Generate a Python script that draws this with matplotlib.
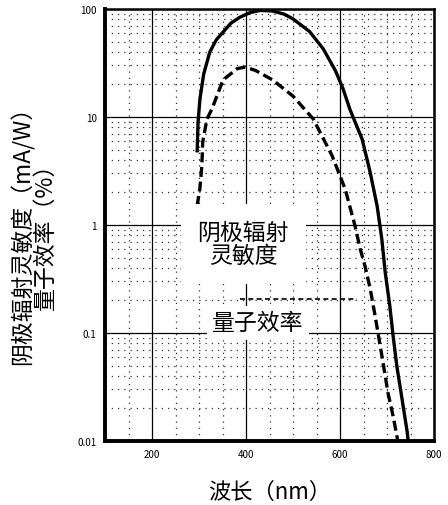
import matplotlib
matplotlib.use("Agg")
import matplotlib.pyplot as plt
from matplotlib.ticker import FixedLocator, LogLocator, NullFormatter
import numpy as np

plt.rcParams['font.family'] = ['Noto Sans CJK SC', 'DejaVu Sans']

# cathode radiant sensitivity (mA/W)
wl_sens = [296, 298, 302, 310, 323, 337, 351, 368, 387, 410, 430, 455, 480,
           500, 535, 564, 590, 606, 621, 647, 664, 679, 689, 696, 706,
           713, 721, 732, 743, 745]
sens = [4.7, 9.0, 14.7, 25, 40, 52, 61, 74, 84, 93, 97, 96, 90,
        81, 62, 43, 27, 18.5, 11.8, 6.25, 3.1, 1.5, 0.74, 0.37, 0.178,
        0.094, 0.049, 0.0245, 0.0121, 0.01]

# quantum efficiency (%)
wl_qe = [296, 302, 306, 308, 317, 328, 351, 381, 398, 420, 457, 500, 543,
         557, 583, 611, 632, 643, 653, 664, 674, 689, 702, 713, 723]
qe = [1.5, 2.2, 3.5, 5.9, 9.6, 12, 22, 28, 29, 27, 22, 15.6, 9.6,
      7.3, 4.4, 2.15, 0.98, 0.6, 0.42, 0.26, 0.15, 0.062, 0.028, 0.017, 0.01]

x_ticks = [200, 400, 600, 800]
x_ticklabels = ['200', '400', '600', '800']
y_ticks = [0.01, 0.1, 1, 10, 100]
y_ticklabels = ['0.01', '0.1', '1', '10', '100']

fig = plt.figure(figsize=(4.48, 5.06), dpi=100)
ax = fig.add_axes([105 / 448, 1 - 442 / 506, 329 / 448, 432 / 506])

ax.set_yscale('log')
ax.set_xlim(100, 800)
ax.set_ylim(0.01, 100)

# scan-like grid texture
ax.xaxis.set_minor_locator(FixedLocator(np.arange(150, 800, 50)))
ax.yaxis.set_minor_locator(LogLocator(base=10, subs=np.arange(2, 10)))
ax.yaxis.set_minor_formatter(NullFormatter())
ax.grid(which='minor', linestyle=(0, (1, 4)), color='0.2', lw=0.9)
ax.grid(which='major', linestyle='-', color='k', lw=0.9)

ax.plot(wl_sens, sens, color='k', lw=2.4, solid_capstyle='butt')
ax.plot(wl_qe, qe, color='k', lw=2.4, linestyle=(0, (3, 1.4)))

ax.set_xticks(x_ticks)
ax.set_xticklabels(x_ticklabels)
ax.set_yticks(y_ticks)
ax.set_yticklabels(y_ticklabels)
ax.tick_params(which='both', length=0, labelsize=7, pad=6)

for side in ['left', 'bottom']:
    ax.spines[side].set_linewidth(2.8)
for side in ['right', 'top']:
    ax.spines[side].set_linewidth(1.8)

# curve labels
ax.text(394, 0.67, '阴极辐射\n灵敏度', fontsize=16.5, ha='center', va='center',
        linespacing=1.05, zorder=5,
        bbox=dict(facecolor='white', edgecolor='none', pad=12))
ax.text(425, 0.125, '量子效率', fontsize=16.5, ha='center', va='center', zorder=5,
        bbox=dict(facecolor='white', edgecolor='none', pad=4))
ax.plot([387, 636], [0.206, 0.206], color='k', lw=1.2, linestyle=(0, (3, 2)), zorder=6)

fig.text(23 / 448, 1 - 230 / 506, '阴极辐射灵敏度（mA/W）', rotation=90,
         fontsize=16.5, ha='center', va='center')
fig.text(45 / 448, 1 - 231 / 506, '量子效率（%）', rotation=90,
         fontsize=16.5, ha='center', va='center')
fig.text(270 / 448, 1 - 492 / 506, '波长（nm）', fontsize=16, ha='center', va='center')

fig.savefig('out.png', dpi=100, facecolor='white')
